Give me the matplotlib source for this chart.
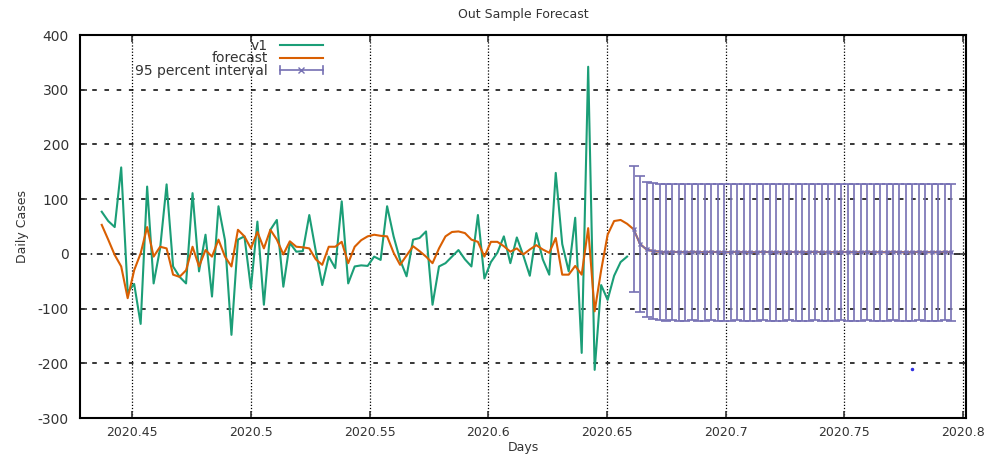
import numpy as np
import matplotlib
matplotlib.use("Agg")
from matplotlib import pyplot as plt
from matplotlib.lines import Line2D
from matplotlib.legend_handler import HandlerBase

plt.rcParams["axes.unicode_minus"] = False

# observed daily cases (v1), one value per day starting at day 160 of 2020
v1 = [77, 60, 49, 158, -70, -55, -128, 123, -54, 10,
      127, -23, -42, -54, 111, -32, 35, -78, 87, 25,
      -148, 26, 32, -63, 59, -93, 44, 62, -60, 20,
      4, 5, 71, 5, -57, -5, -26, 96, -54, -23,
      -21, -22, -5, -11, 87, 32, -11, -41, 26, 29,
      41, -93, -23, -17, -5, 7, -10, -23, 71, -45,
      -15, 2, 32, -17, 30, -3, -40, 38, -10, -38,
      148, 18, -32, 66, -181, 342, -212, -57, -84, -40,
      -15, -5]

# fitted values over the sample
fitted = [53, 26, -2, -23, -81, -30, 1, 49, -5, 13,
          10, -38, -42, -30, 13, -23, 7, -5, 26, -5,
          -23, 44, 32, 10, 40, 10, 44, 26, -1, 23,
          13, 12, 10, -10, -20, 13, 13, 22, -17, 13,
          25, 32, 35, 33, 32, 2, -20, -3, 14, 5,
          -5, -17, 10, 32, 40, 41, 38, 26, 22, -5,
          22, 22, 14, 4, 10, -1, 8, 16, 8, 2,
          29, -38, -38, -22, -38, 47, -105, -30, 35, 60,
          62, 55]

# out of sample forecast and half width of the 95% interval
fc_out = [45, 18, 8, 5, 4, 3, 4, 3, 3, 4,
          3, 3, 4, 3, 3, 3, 4, 3, 3, 3,
          4, 3, 3, 3, 4, 3, 3, 3, 4, 3,
          3, 3, 4, 3, 3, 3, 4, 3, 3, 3,
          4, 3, 3, 3, 4, 3, 3, 3, 4, 3]
fc_err = [115, 125, 124, 124, 124, 125, 124, 125, 125, 124,
          125, 125, 124, 125, 125, 125, 124, 125, 125, 125,
          124, 125, 125, 125, 124, 125, 125, 125, 124, 125,
          125, 125, 124, 125, 125, 125, 124, 125, 125, 125,
          124, 125, 125, 125, 124, 125, 125, 125, 124, 125]

first_day = 160
stray_day, stray_val = 285, -210

green = "#1b9e77"
orange = "#d95f02"
purple = "#7570b3"


class ErrHandler(HandlerBase):
    # gnuplot style key sample: |--*--|
    def create_artists(self, legend, orig, xd, yd, w, h, fontsize, trans):
        y = (h - yd) / 2
        x0, x1 = -xd, -xd + w
        cap = h * 0.4
        arts = [Line2D([x0, x1], [y, y], color=purple, lw=1.2),
                Line2D([x0, x0], [y - cap, y + cap], color=purple, lw=1.2),
                Line2D([x1, x1], [y - cap, y + cap], color=purple, lw=1.2),
                Line2D([(x0 + x1) / 2], [y], color=purple, marker="x", ms=5)]
        for a in arts:
            a.set_transform(trans)
        return arts


days_in = np.arange(first_day, first_day + len(v1))
days_out = np.arange(first_day + len(v1), first_day + len(v1) + len(fc_out))
x_in = 2020 + days_in / 366.0
x_out = 2020 + days_out / 366.0

fig = plt.figure(figsize=(9.95, 4.57), dpi=100)
ax = fig.add_axes([0.0804, 0.0853, 0.8906, 0.8381])

# grid
for yv in [-200, -100, 100, 200, 300]:
    ax.axhline(yv, color="black", lw=1.1, ls=(0, (3, 5)), zorder=0)
ax.axhline(0, color="black", lw=1.1, ls=(0, (4, 3, 1, 3)), zorder=0)
for xv in [2020.45, 2020.5, 2020.55, 2020.6, 2020.65, 2020.7, 2020.75, 2020.8]:
    ax.axvline(xv, color="black", lw=0.9, ls=(0, (1, 1.5)), zorder=0)

l1, = ax.plot(x_in, v1, color=green, lw=1.5)
l2, = ax.plot(np.concatenate([x_in, x_out]), fitted + fc_out, color=orange, lw=1.5)
eb = ax.errorbar(x_out, fc_out, yerr=fc_err, color=purple, lw=1.2, capsize=3.5,
                 capthick=1.2, marker="x", ms=3)
ax.plot([2020 + stray_day / 366.0], [stray_val], ".", color="#3030e0", ms=3)

ax.set_xlim(2020.428, 2020.8013)
ax.set_ylim(-300, 400)
ax.set_xticks([2020.45, 2020.5, 2020.55, 2020.6, 2020.65, 2020.7, 2020.75, 2020.8])
ax.set_xticklabels(["2020.45", "2020.5", "2020.55", "2020.6", "2020.65",
                    "2020.7", "2020.75", "2020.8"])
ax.set_yticks(range(-300, 401, 100))
ax.tick_params(direction="in", top=True, right=True, labelsize=9,
               colors="#333333", length=5, width=1.2)
ax.tick_params(axis="x", pad=6)
ax.tick_params(axis="y", pad=8, labelsize=10)
for s in ax.spines.values():
    s.set_linewidth(1.5)

ax.set_title("Out Sample Forecast", fontsize=9, color="#333333", pad=12)
ax.set_xlabel("Days", fontsize=9, color="#333333", labelpad=1)
ax.set_ylabel("Daily Cases", fontsize=9, color="#333333", labelpad=6)

proxy = Line2D([], [])
ax.legend([l1, l2, proxy], ["v1", "forecast", "95 percent interval"],
          handler_map={proxy: ErrHandler()},
          loc="upper right", bbox_to_anchor=(0.274, 0.99), markerfirst=False,
          frameon=False, fontsize=10, handlelength=3.1, handletextpad=0.85,
          labelspacing=-0.1, borderaxespad=0, borderpad=0,
          labelcolor="#333333")

fig.savefig("out.png", dpi=100)
